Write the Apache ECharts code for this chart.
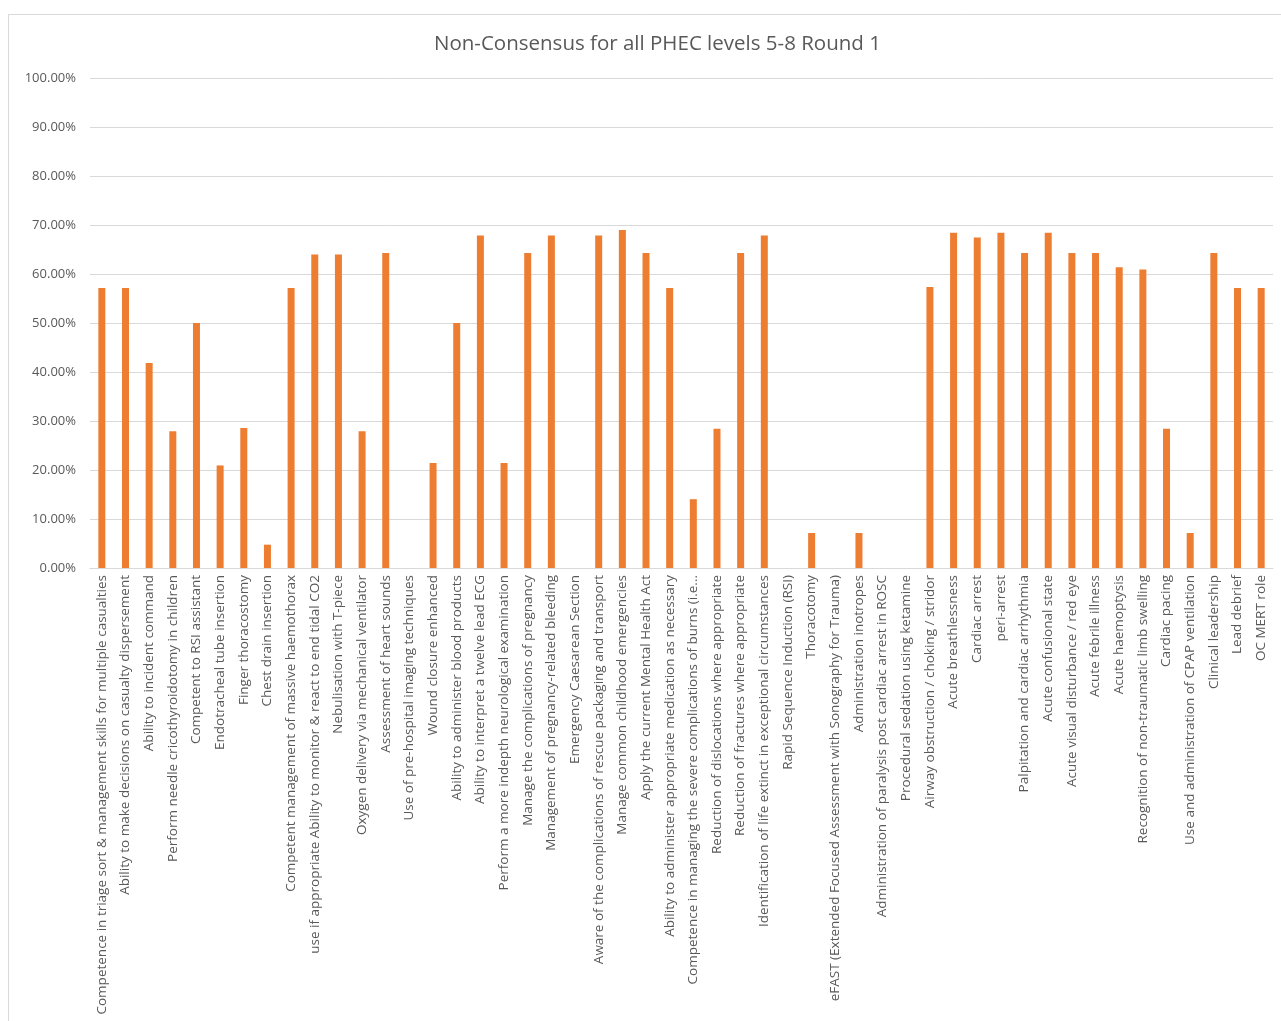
<!DOCTYPE html>
<html>
<head>
<meta charset="utf-8">
<script src="https://cdn.jsdelivr.net/npm/echarts@6/dist/echarts.min.js"></script>
<style>
  html, body { margin: 0; padding: 0; background: #fff; }
  #chart { width: 1281px; height: 1021px; }
</style>
</head>
<body>
<div id="chart"></div>
<script>
var categories = [
  'Competence in triage sort & management skills for multiple casualties',
  'Ability to make decisions on casualty dispersement',
  'Ability to incident command',
  'Perform needle cricothyroidotomy in children',
  'Competent to RSI assistant',
  'Endotracheal tube insertion',
  'Finger thoracostomy',
  'Chest drain insertion',
  'Competent management of massive haemothorax',
  'use if appropriate Ability to monitor & react to end tidal CO2',
  'Nebulisation with T-piece',
  'Oxygen delivery via mechanical ventilator',
  'Assessment of heart sounds',
  'Use of pre-hospital imaging techniques',
  'Wound closure enhanced',
  'Ability to administer blood products',
  'Ability to interpret a twelve lead ECG',
  'Perform a more indepth neurological examination',
  'Manage the complications of pregnancy',
  'Management of pregnancy-related bleeding',
  'Emergency Caesarean Section',
  'Aware of the complications of rescue packaging and transport',
  'Manage common childhood emergencies',
  'Apply the current Mental Health Act',
  'Ability to administer appropriate medication as necessary',
  'Competence in managing the severe complications of burns (i.e...',
  'Reduction of dislocations where appropriate',
  'Reduction of fractures where appropriate',
  'Identification of life extinct in exceptional circumstances',
  'Rapid Sequence Induction (RSI)',
  'Thoracotomy',
  'eFAST (Extended Focused Assessment with Sonography for Trauma)',
  'Administration inotropes',
  'Administration of paralysis post cardiac arrest in ROSC',
  'Procedural sedation using ketamine',
  'Airway obstruction / choking / stridor',
  'Acute breathlessness',
  'Cardiac arrest',
  'peri-arrest',
  'Palpitation and cardiac arrhythmia',
  'Acute confusional state',
  'Acute visual disturbance / red eye',
  'Acute febrile illness',
  'Acute haemoptysis',
  'Recognition of non-traumatic limb swelling',
  'Cardiac pacing',
  'Use and administration of CPAP ventilation',
  'Clinical leadership',
  'Lead debrief',
  'OC MERT role'
];

var nonConsensus = [
  0.5714, 0.5714, 0.4186, 0.2791, 0.50, 0.2093, 0.2857, 0.0476, 0.5714, 0.64,
  0.64, 0.2791, 0.6429, 0, 0.2143, 0.50, 0.6786, 0.2143, 0.6429, 0.6786,
  0, 0.6786, 0.6897, 0.6429, 0.5714, 0.1404, 0.2843, 0.6429, 0.6786, 0,
  0.0714, 0, 0.0714, 0, 0, 0.5735, 0.6842, 0.6744, 0.6842, 0.6429,
  0.6842, 0.6429, 0.6429, 0.6140, 0.6094, 0.2843, 0.0714, 0.6429, 0.5714, 0.5714
];

var yTicks = { min: 0, max: 1, interval: 0.1 };

var chart = echarts.init(document.getElementById('chart'), null, { renderer: 'canvas' });
var font = '"Open Sans", "Noto Sans", sans-serif';

chart.setOption({
  animation: false,
  backgroundColor: '#fff',
  graphic: [{
    type: 'polyline',
    shape: { points: [[8.5, 1021], [8.5, 14.5], [1281, 14.5]] },
    style: { stroke: '#d9d9d9', lineWidth: 1, fill: null }
  }],
  title: {
    text: 'Non-Consensus for all PHEC levels 5-8 Round 1',
    left: 429,
    top: 29,
    textStyle: { color: '#595959', fontFamily: font, fontSize: 20.5, fontWeight: 'normal' }
  },
  grid: { left: 90, right: 8, top: 78, bottom: 453 },
  xAxis: {
    type: 'category',
    data: categories,
    axisLine: { lineStyle: { color: '#d9d9d9' } },
    axisTick: { show: false },
    axisLabel: {
      interval: 0,
      rotate: 90,
      margin: 7,
      color: '#595959',
      fontFamily: font,
      fontSize: 13.5
    }
  },
  yAxis: {
    type: 'value',
    min: yTicks.min,
    max: yTicks.max,
    interval: yTicks.interval,
    axisLine: { show: false },
    axisTick: { show: false },
    splitLine: { lineStyle: { color: '#d9d9d9', width: 1 } },
    axisLabel: {
      margin: 14,
      color: '#595959',
      fontFamily: font,
      fontSize: 13,
      formatter: function(v) { return (v * 100).toFixed(2) + '%'; }
    }
  },
  series: [{
    type: 'bar',
    data: nonConsensus,
    barWidth: 7,
    itemStyle: { color: '#ed7d31' }
  }]
});
</script>
</body>
</html>
